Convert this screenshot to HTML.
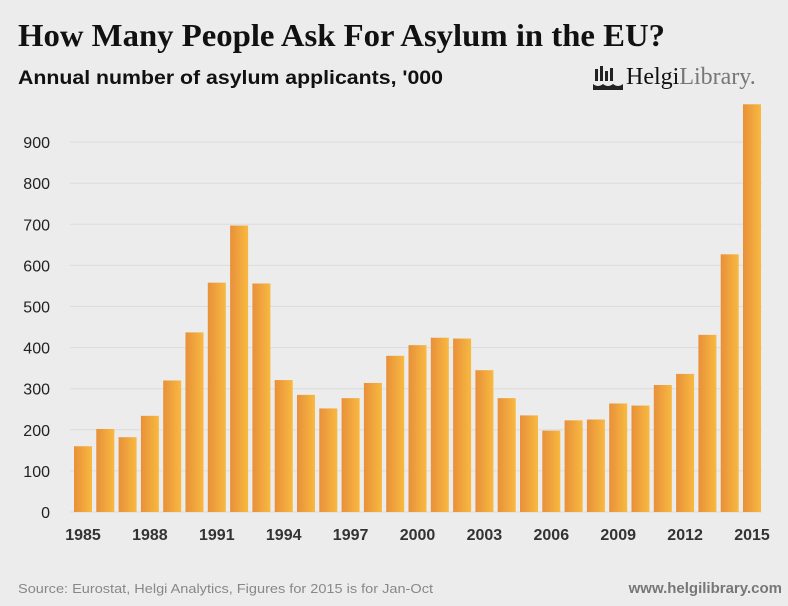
<!DOCTYPE html>
<html><head><meta charset="utf-8"><style>
body{margin:0;background:#ececec;font-family:"Liberation Sans",sans-serif;}
#wrap{position:relative;width:788px;height:606px;overflow:hidden;background:#ececec;}
</style></head><body>
<div id="wrap">
<svg width="788" height="606">
<defs><linearGradient id="g" x1="0" x2="1" y1="0" y2="0"><stop offset="0" stop-color="#e8903a"/><stop offset="1" stop-color="#f8b940"/></linearGradient></defs>
<text x="18" y="46" font-family="Liberation Serif,serif" font-weight="bold" font-size="32" fill="#111" textLength="647" lengthAdjust="spacingAndGlyphs">How Many People Ask For Asylum in the EU?</text>
<text x="18" y="84" font-size="19" font-weight="bold" fill="#111" textLength="425" lengthAdjust="spacingAndGlyphs">Annual number of asylum applicants, '000</text>
<g>
<rect x="595" y="69" width="3" height="12" fill="#222"/><rect x="600" y="66" width="3" height="15" fill="#222"/><rect x="605" y="71" width="3" height="10" fill="#222"/><rect x="610" y="68" width="3" height="13" fill="#222"/><path d="M593 84 q5 4 10 0 q5 4 10 0 q5 4 10 0 l0 6 l-30 0z" fill="#222"/>
<text x="626" y="84" font-family="Liberation Serif,serif" font-size="24" fill="#111">Helgi<tspan fill="#777">Library.</tspan></text></g>
<g id="grid"></g><g id="bars"></g><g id="yax"></g><g id="xax"></g>
<text x="18" y="593" font-size="13" fill="#888" textLength="415" lengthAdjust="spacingAndGlyphs">Source: Eurostat, Helgi Analytics, Figures for 2015 is for Jan-Oct</text>
<text x="782" y="593" text-anchor="end" font-size="15" font-weight="bold" fill="#777">www.helgilibrary.com</text>
</svg></div>
<script>
const years=[1985,1986,1987,1988,1989,1990,1991,1992,1993,1994,1995,1996,1997,1998,1999,2000,2001,2002,2003,2004,2005,2006,2007,2008,2009,2010,2011,2012,2013,2014,2015];
const values=[160,202,182,234,320,437,558,697,556,321,285,252,277,314,380,406,424,422,345,277,235,198,223,225,264,259,309,336,431,627,992];
const yTicks=[0,100,200,300,400,500,600,700,800,900];
const xLabels=[1985,1988,1991,1994,1997,2000,2003,2006,2009,2012,2015];
const NS="http://www.w3.org/2000/svg";
const y=v=>512-v*0.411;
const x=i=>83+i*22.3;
function mk(t,a,p){const e=document.createElementNS(NS,t);for(const k in a)e.setAttribute(k,a[k]);document.getElementById(p).appendChild(e);return e;}
yTicks.forEach(t=>{
 const l=mk('line',{x1:70,x2:762,y1:y(t),y2:y(t),stroke:'#dcdcdc','stroke-width':1},'grid');
 
 
 const tx=mk('text',{x:50,y:y(t)+6,'text-anchor':'end','font-size':16,fill:'#222'},'yax');
 tx.textContent=t;
 
 
});
values.forEach((v,i)=>{
 const r=mk('rect',{x:x(i)-9,y:y(v),width:18,height:512-y(v),fill:'url(#g)'},'bars');
 
 
});
xLabels.forEach(yr=>{
 const i=years.indexOf(yr);
 const t=mk('text',{x:x(i),y:540,'text-anchor':'middle','font-size':16,'font-weight':'bold',fill:'#333'},'xax');
 t.textContent=yr;
 
 
});
</script>
</body></html>
